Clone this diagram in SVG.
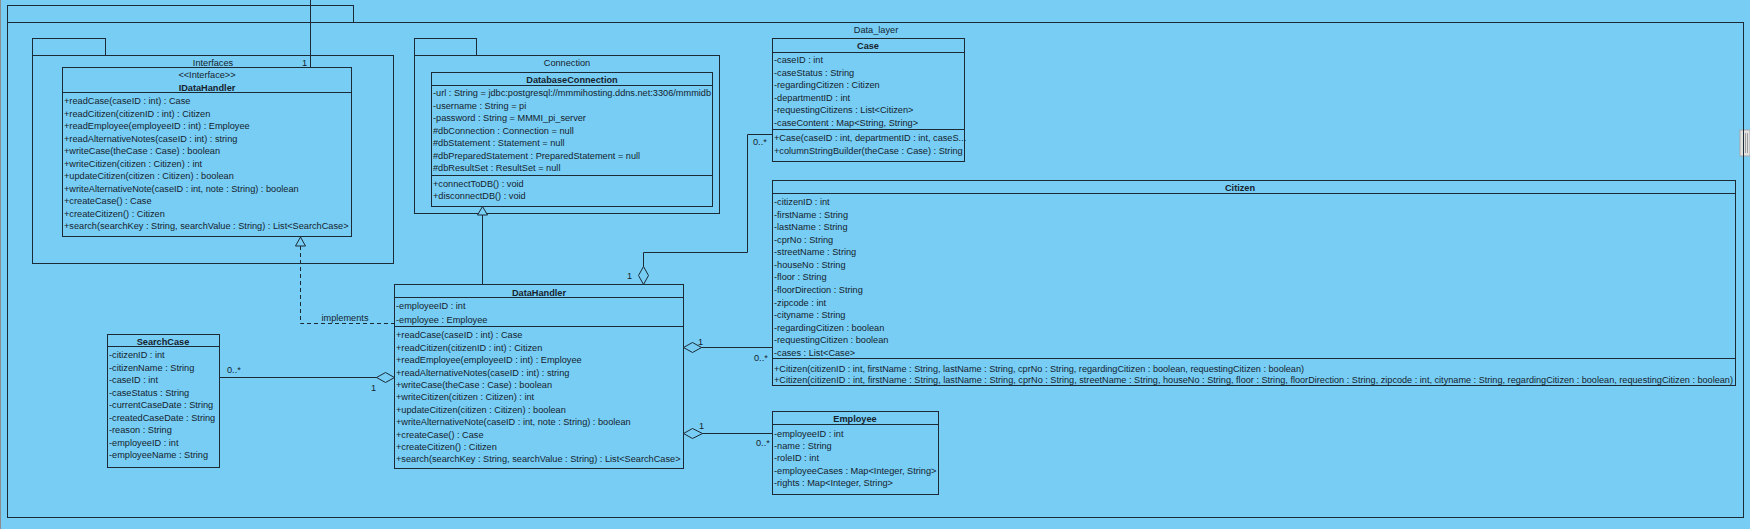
<svg xmlns="http://www.w3.org/2000/svg" width="1750" height="529" viewBox="0 0 1750 529">
<style>
.t{font-family:"Liberation Sans",Arial,sans-serif;font-size:9.2px;fill:#15232e}
.b{font-weight:bold;text-anchor:middle}
.m{text-anchor:middle}
.box{fill:none;stroke:#1b2a35;stroke-width:1}
.ln{fill:none;stroke:#1b2a35;stroke-width:1}
.dash{fill:none;stroke:#1b2a35;stroke-width:1;stroke-dasharray:4,3}
.dia{fill:#77cdf4;stroke:#1b2a35;stroke-width:1}
</style>
<rect x="0" y="0" width="1750" height="529" fill="#77cdf4"/>
<rect x="0" y="0" width="1" height="529" fill="#8c8c8c"/>
<g id="scrollbar">
<rect x="1740" y="130" width="10" height="26" fill="#e2e2e2" stroke="#a8a8a8"/>
<path d="M1743.5 133V153M1745.5 133V153M1747.5 133V153" stroke="#8a8a8a" stroke-width="0.8"/>
</g>
<g id="pkg-data-layer">
<rect class="box" x="7.5" y="5.5" width="346" height="17"/>
<rect class="box" x="7.5" y="22.5" width="1736" height="495"/>
<text class="t m" x="876" y="33">Data_layer</text>
</g>
<g id="pkg-interfaces">
<rect class="box" x="32.5" y="38.5" width="73" height="17"/>
<rect class="box" x="32.5" y="55.5" width="361" height="208"/>
<text class="t m" x="213" y="66">Interfaces</text>
</g>
<g id="pkg-connection">
<rect class="box" x="414.5" y="38.5" width="62" height="17"/>
<rect class="box" x="414.5" y="55.5" width="305" height="158"/>
<text class="t m" x="567" y="66">Connection</text>
</g>
<g id="IDataHandler">
<rect class="box" x="62.5" y="67.5" width="289" height="169"/>
<line class="ln" x1="62.5" y1="92.5" x2="351.5" y2="92.5"/>
<text class="t m" x="207" y="78">&lt;&lt;Interface&gt;&gt;</text>
<text class="t b" x="207" y="90.5">IDataHandler</text>
<text class="t" x="64" y="104">+readCase(caseID : int) : Case</text>
<text class="t" x="64" y="116.5">+readCitizen(citizenID : int) : Citizen</text>
<text class="t" x="64" y="129">+readEmployee(employeeID : int) : Employee</text>
<text class="t" x="64" y="141.5">+readAlternativeNotes(caseID : int) : string</text>
<text class="t" x="64" y="154">+writeCase(theCase : Case) : boolean</text>
<text class="t" x="64" y="166.5">+writeCitizen(citizen : Citizen) : int</text>
<text class="t" x="64" y="179">+updateCitizen(citizen : Citizen) : boolean</text>
<text class="t" x="64" y="191.5">+writeAlternativeNote(caseID : int, note : String) : boolean</text>
<text class="t" x="64" y="204">+createCase() : Case</text>
<text class="t" x="64" y="216.5">+createCitizen() : Citizen</text>
<text class="t" x="64" y="229">+search(searchKey : String, searchValue : String) : List&lt;SearchCase&gt;</text>
</g>
<g id="DatabaseConnection">
<rect class="box" x="431.5" y="72.5" width="281" height="134"/>
<line class="ln" x1="431.5" y1="85.5" x2="712.5" y2="85.5"/>
<line class="ln" x1="431.5" y1="175.5" x2="712.5" y2="175.5"/>
<text class="t b" x="572" y="83">DatabaseConnection</text>
<text class="t" x="433" y="96">-url : String = jdbc:postgresql://mmmihosting.ddns.net:3306/mmmidb</text>
<text class="t" x="433" y="108.5">-username : String = pi</text>
<text class="t" x="433" y="121">-password : String = MMMI_pi_server</text>
<text class="t" x="433" y="133.5">#dbConnection : Connection = null</text>
<text class="t" x="433" y="146">#dbStatement : Statement = null</text>
<text class="t" x="433" y="158.5">#dbPreparedStatement : PreparedStatement = null</text>
<text class="t" x="433" y="171">#dbResultSet : ResultSet = null</text>
<text class="t" x="433" y="187.3">+connectToDB() : void</text>
<text class="t" x="433" y="199">+disconnectDB() : void</text>
</g>
<g id="Case">
<rect class="box" x="772.5" y="38.5" width="192" height="123"/>
<line class="ln" x1="772.5" y1="52.5" x2="964.5" y2="52.5"/>
<line class="ln" x1="772.5" y1="129.5" x2="964.5" y2="129.5"/>
<text class="t b" x="868" y="49">Case</text>
<text class="t" x="774" y="63.3">-caseID : int</text>
<text class="t" x="774" y="75.8">-caseStatus : String</text>
<text class="t" x="774" y="88.3">-regardingCitizen : Citizen</text>
<text class="t" x="774" y="100.8">-departmentID : int</text>
<text class="t" x="774" y="113.3">-requestingCitizens : List&lt;Citizen&gt;</text>
<text class="t" x="774" y="125.8">-caseContent : Map&lt;String, String&gt;</text>
<text class="t" x="774" y="141">+Case(caseID : int, departmentID : int, caseS...</text>
<text class="t" x="774" y="153.8">+columnStringBuilder(theCase : Case) : String</text>
</g>
<g id="Citizen">
<rect class="box" x="772.5" y="180.5" width="963" height="205"/>
<line class="ln" x1="772.5" y1="193.5" x2="1735.5" y2="193.5"/>
<line class="ln" x1="772.5" y1="358.5" x2="1735.5" y2="358.5"/>
<text class="t b" x="1240" y="191">Citizen</text>
<text class="t" x="774" y="205.3">-citizenID : int</text>
<text class="t" x="774" y="217.8">-firstName : String</text>
<text class="t" x="774" y="230.3">-lastName : String</text>
<text class="t" x="774" y="242.9">-cprNo : String</text>
<text class="t" x="774" y="255.4">-streetName : String</text>
<text class="t" x="774" y="267.9">-houseNo : String</text>
<text class="t" x="774" y="280.4">-floor : String</text>
<text class="t" x="774" y="292.9">-floorDirection : String</text>
<text class="t" x="774" y="305.5">-zipcode : int</text>
<text class="t" x="774" y="318">-cityname : String</text>
<text class="t" x="774" y="330.5">-regardingCitizen : boolean</text>
<text class="t" x="774" y="343">-requestingCitizen : boolean</text>
<text class="t" x="774" y="355.5">-cases : List&lt;Case&gt;</text>
<text class="t" x="774" y="371.5" textLength="530" lengthAdjust="spacingAndGlyphs">+Citizen(citizenID : int, firstName : String, lastName : String, cprNo : String, regardingCitizen : boolean, requestingCitizen : boolean)</text>
<text class="t" x="774" y="383.3" textLength="959" lengthAdjust="spacingAndGlyphs">+Citizen(citizenID : int, firstName : String, lastName : String, cprNo : String, streetName : String, houseNo : String, floor : String, floorDirection : String, zipcode : int, cityname : String, regardingCitizen : boolean, requestingCitizen : boolean)</text>
</g>
<g id="DataHandler">
<rect class="box" x="394.5" y="284.5" width="289" height="184"/>
<line class="ln" x1="394.5" y1="297.5" x2="683.5" y2="297.5"/>
<line class="ln" x1="394.5" y1="326.5" x2="683.5" y2="326.5"/>
<text class="t b" x="539" y="295.5">DataHandler</text>
<text class="t" x="396" y="309">-employeeID : int</text>
<text class="t" x="396" y="322.5">-employee : Employee</text>
<text class="t" x="396" y="338.3">+readCase(caseID : int) : Case</text>
<text class="t" x="396" y="350.7">+readCitizen(citizenID : int) : Citizen</text>
<text class="t" x="396" y="363.1">+readEmployee(employeeID : int) : Employee</text>
<text class="t" x="396" y="375.5">+readAlternativeNotes(caseID : int) : string</text>
<text class="t" x="396" y="387.9">+writeCase(theCase : Case) : boolean</text>
<text class="t" x="396" y="400.3">+writeCitizen(citizen : Citizen) : int</text>
<text class="t" x="396" y="412.7">+updateCitizen(citizen : Citizen) : boolean</text>
<text class="t" x="396" y="425.1">+writeAlternativeNote(caseID : int, note : String) : boolean</text>
<text class="t" x="396" y="437.5">+createCase() : Case</text>
<text class="t" x="396" y="449.9">+createCitizen() : Citizen</text>
<text class="t" x="396" y="462.3">+search(searchKey : String, searchValue : String) : List&lt;SearchCase&gt;</text>
</g>
<g id="Employee">
<rect class="box" x="772.5" y="411.5" width="166" height="83"/>
<line class="ln" x1="772.5" y1="424.5" x2="938.5" y2="424.5"/>
<text class="t b" x="855" y="422.3">Employee</text>
<text class="t" x="774" y="436.6">-employeeID : int</text>
<text class="t" x="774" y="449">-name : String</text>
<text class="t" x="774" y="461.3">-roleID : int</text>
<text class="t" x="774" y="473.7">-employeeCases : Map&lt;Integer, String&gt;</text>
<text class="t" x="774" y="486">-rights : Map&lt;Integer, String&gt;</text>
</g>
<g id="SearchCase">
<rect class="box" x="107.5" y="334.5" width="112" height="133"/>
<line class="ln" x1="107.5" y1="346.5" x2="219.5" y2="346.5"/>
<text class="t b" x="163" y="345.3">SearchCase</text>
<text class="t" x="109" y="358">-citizenID : int</text>
<text class="t" x="109" y="370.5">-citizenName : String</text>
<text class="t" x="109" y="383.1">-caseID : int</text>
<text class="t" x="109" y="395.6">-caseStatus : String</text>
<text class="t" x="109" y="408.2">-currentCaseDate : String</text>
<text class="t" x="109" y="420.7">-createdCaseDate : String</text>
<text class="t" x="109" y="433.2">-reason : String</text>
<text class="t" x="109" y="445.8">-employeeID : int</text>
<text class="t" x="109" y="458.3">-employeeName : String</text>
</g>
<g id="connectors">
<line class="ln" x1="310.5" y1="0" x2="310.5" y2="67.5"/>
<text class="t" x="302" y="66">1</text>
<path class="dash" d="M300.5 246V323.5H394"/>
<path class="dia" d="M300.5 237L295.5 246H305.5Z"/>
<text class="t m" x="345" y="321">implements</text>
<line class="ln" x1="482.5" y1="215" x2="482.5" y2="284.5"/>
<path class="dia" d="M482.5 206.5L477.5 215H487.5Z"/>
<path class="ln" d="M643.5 267V252.5H747.5V134.5H772.5"/>
<path class="dia" d="M643.5 266.5L638.5 275.5L643.5 284.5L648.5 275.5Z"/>
<text class="t" x="627" y="278.5">1</text>
<text class="t" x="753" y="145">0..*</text>
<line class="ln" x1="701" y1="347.5" x2="772.5" y2="347.5"/>
<path class="dia" d="M683.5 347.5L692.5 342.5L701.5 347.5L692.5 352.5Z"/>
<text class="t" x="698" y="345">1</text>
<text class="t" x="754" y="361">0..*</text>
<line class="ln" x1="702" y1="433.5" x2="772.5" y2="433.5"/>
<path class="dia" d="M683.5 433.5L692.5 428.5L702.5 433.5L692.5 438.5Z"/>
<text class="t" x="699" y="429">1</text>
<text class="t" x="756" y="446">0..*</text>
<line class="ln" x1="219.5" y1="377.5" x2="377" y2="377.5"/>
<path class="dia" d="M376.5 377.5L385.5 372.5L394.5 377.5L385.5 382.5Z"/>
<text class="t" x="227" y="373">0..*</text>
<text class="t" x="371" y="391">1</text>
</g>
</svg>
